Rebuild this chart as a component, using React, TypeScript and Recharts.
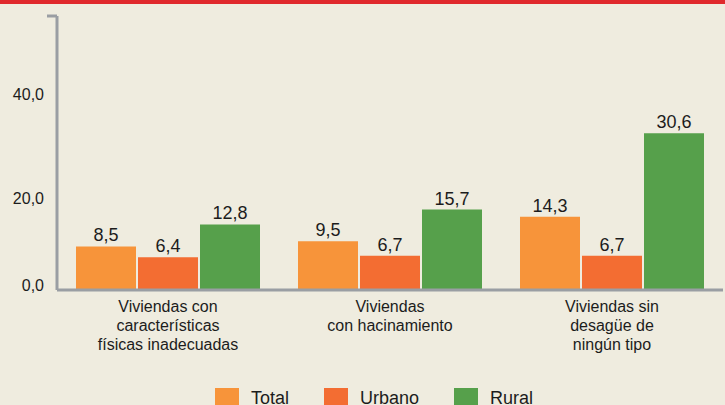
import { BarChart, Bar, XAxis, YAxis, Legend, LabelList } from "recharts";

// Values (percent of households)
const categories = [
  "Viviendas con\ncaracterísticas\nfísicas inadecuadas",
  "Viviendas\ncon hacinamiento",
  "Viviendas sin\ndesagüe de\nningún tipo",
];
const total = [8.5, 9.5, 14.3];
const urbano = [6.4, 6.7, 6.7];
const rural = [12.8, 15.7, 30.6];

const seriesNames = ["Total", "Urbano", "Rural"];
const seriesColors = ["#F7943A", "#F36D32", "#56A04B"];

const yTicks = [0, 20, 40];
const yMax = 53.5;

const data = categories.map((name, i) => ({
  name,
  Total: total[i],
  Urbano: urbano[i],
  Rural: rural[i],
}));

const fmt = (v: number) => v.toFixed(1).replace(".", ",");

const BG = "#EFECDF";
const AXIS = "#9A9EA3";
const TEXT = "#1C1C1C";
const FONT = "'Liberation Sans', Arial, sans-serif";

// the original labels sit a little off their gridline positions
const yNudge: Record<number, number> = { 0: -5, 20: 11, 40: 9 };

function YTick(props: any) {
  const { x, y, payload } = props;
  if (payload.value === yMax) {
    return <line x1={x + 3} x2={x + 13} y1={y} y2={y} stroke={AXIS} strokeWidth={3} />;
  }
  return (
    <text x={x} y={y + (yNudge[payload.value] ?? 0)} dy="0.35em" textAnchor="end" fill={TEXT} fontSize={16} fontFamily={FONT}>
      {fmt(payload.value)}
    </text>
  );
}

function XTick(props: any) {
  const { x, y, payload } = props;
  const lines = String(payload.value).split("\n");
  return (
    <text x={x} y={y + 14} textAnchor="middle" fill={TEXT} fontSize={16} fontFamily={FONT}>
      {lines.map((l, i) => (
        <tspan key={i} x={x} dy={i === 0 ? 0 : 19}>
          {l}
        </tspan>
      ))}
    </text>
  );
}

function LegendBox() {
  return (
    <div style={{ display: "flex", alignItems: "flex-start", paddingLeft: 215 }}>
      {seriesNames.map((s, i) => (
        <div key={s} style={{ display: "flex", alignItems: "flex-start", marginRight: 35 }}>
          <span style={{ width: 24, height: 24, background: seriesColors[i], display: "inline-block" }} />
          <span style={{ marginLeft: 12, marginTop: 1, fontSize: 18, lineHeight: 1, color: TEXT, fontFamily: FONT }}>{s}</span>
        </div>
      ))}
    </div>
  );
}

export default function App() {
  return (
    <div
      style={{
        position: "fixed",
        left: 0,
        top: 0,
        width: 725,
        height: 405,
        background: BG,
        overflow: "hidden",
        fontFamily: FONT,
      }}
    >
      <div style={{ position: "absolute", left: 0, top: 0, width: 725, height: 4, background: "#E0292C" }} />
      <BarChart
        width={725}
        height={405}
        data={data}
        margin={{ top: 16, right: 2, left: 0, bottom: 0 }}
        barSize={60}
        barGap={2}
      >
        <XAxis
          dataKey="name"
          height={115}
          interval={0}
          tickLine={false}
          axisLine={{ stroke: AXIS, strokeWidth: 3 }}
          tick={<XTick />}
        />
        <YAxis
          width={57}
          domain={[0, yMax]}
          ticks={[...yTicks, yMax]}
          interval={0}
          tickLine={false}
          tickMargin={7}
          axisLine={{ stroke: AXIS, strokeWidth: 3 }}
          tick={<YTick />}
        />
        <Legend
          layout="horizontal"
          verticalAlign="middle"
          align="center"
          wrapperStyle={{ top: 388, left: 0, width: 725 }}
          content={<LegendBox />}
        />
        {seriesNames.map((s, i) => (
          <Bar key={s} dataKey={s} fill={seriesColors[i]} isAnimationActive={false}>
            <LabelList dataKey={s} position="top" offset={5} formatter={(v: any) => fmt(Number(v))} fill={TEXT} fontSize={18} fontFamily={FONT} />
          </Bar>
        ))}
      </BarChart>
    </div>
  );
}
